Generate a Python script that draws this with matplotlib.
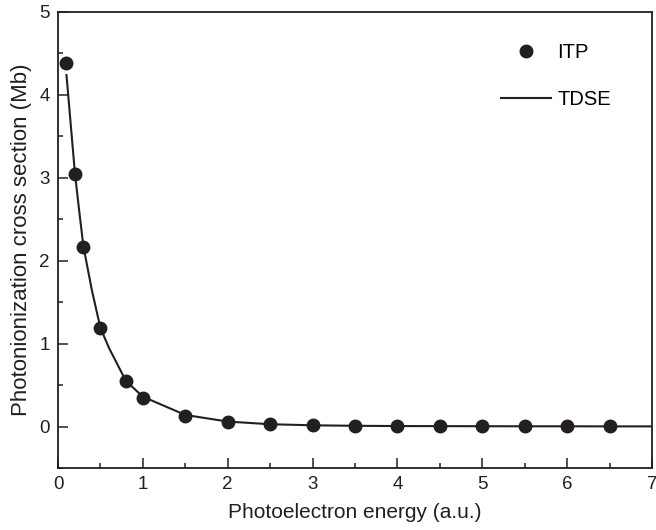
import matplotlib
matplotlib.use("Agg")
import matplotlib.pyplot as plt
from matplotlib.ticker import MultipleLocator

plt.rcParams['font.family'] = ['Liberation Sans', 'DejaVu Sans']

itp_x = [0.1, 0.2, 0.3, 0.5, 0.8, 1.0, 1.5, 2.0, 2.5, 3.0, 3.5, 4.0, 4.5, 5.0, 5.5, 6.0, 6.5]
itp_y = [4.38, 3.05, 2.17, 1.19, 0.55, 0.35, 0.13, 0.055, 0.025, 0.013, 0.008, 0.006, 0.005, 0.004, 0.003, 0.003, 0.002]

tdse_x = [0.1, 0.2, 0.25, 0.3, 0.4, 0.5, 0.6, 0.8, 1.0, 1.5, 2.0, 2.5, 3.0, 3.5, 4.0, 4.5, 5.0, 5.5, 6.0, 6.5, 7.0]
tdse_y = [4.24, 3.05, 2.6, 2.17, 1.64, 1.19, 0.95, 0.55, 0.36, 0.14, 0.06, 0.028, 0.015, 0.009, 0.006, 0.005, 0.004, 0.003, 0.003, 0.002, 0.002]

fig = plt.figure(figsize=(6.56, 5.30), dpi=100)
L, R, T, B = 58, 652, 12, 468
ax = fig.add_axes([L/656, 1 - B/530, (R - L)/656, (B - T)/530])

ax.plot(tdse_x, tdse_y, color='#231f20', lw=1.5, label='TDSE', zorder=2)
ax.plot(itp_x, itp_y, 'o', color='#231f20', ms=9, label='ITP', zorder=3)

ax.set_xlim(0, 7)
ax.set_ylim(-0.5, 5)
ax.xaxis.set_major_locator(MultipleLocator(1))
ax.xaxis.set_minor_locator(MultipleLocator(0.5))
ax.yaxis.set_major_locator(MultipleLocator(1))
ax.yaxis.set_minor_locator(MultipleLocator(0.5))
ax.tick_params(which='both', direction='in', top=False, right=False, labelsize=13.5, colors='#231f20')
ax.tick_params(which='major', length=7, width=1.1, pad=6)
ax.tick_params(which='minor', length=3.8, width=1.1)
for s in ax.spines.values():
    s.set_linewidth(1.3)
    s.set_color('#231f20')

ax.set_xlabel('Photoelectron energy (a.u.)', fontsize=15, color='#231f20', labelpad=7)
ax.set_ylabel('Photonionization cross section (Mb)', fontsize=16, color='#231f20', labelpad=5)

h, l = ax.get_legend_handles_labels()
leg = ax.legend([h[1], h[0]], [l[1], l[0]], loc='upper left', frameon=False, fontsize=14.5,
                bbox_to_anchor=((501 - L)/(R - L), (B - 43)/(B - T)), borderaxespad=0, borderpad=0,
                handlelength=2.5, labelspacing=1.4, handletextpad=0.3)

fig.savefig('out.png', dpi=100)
